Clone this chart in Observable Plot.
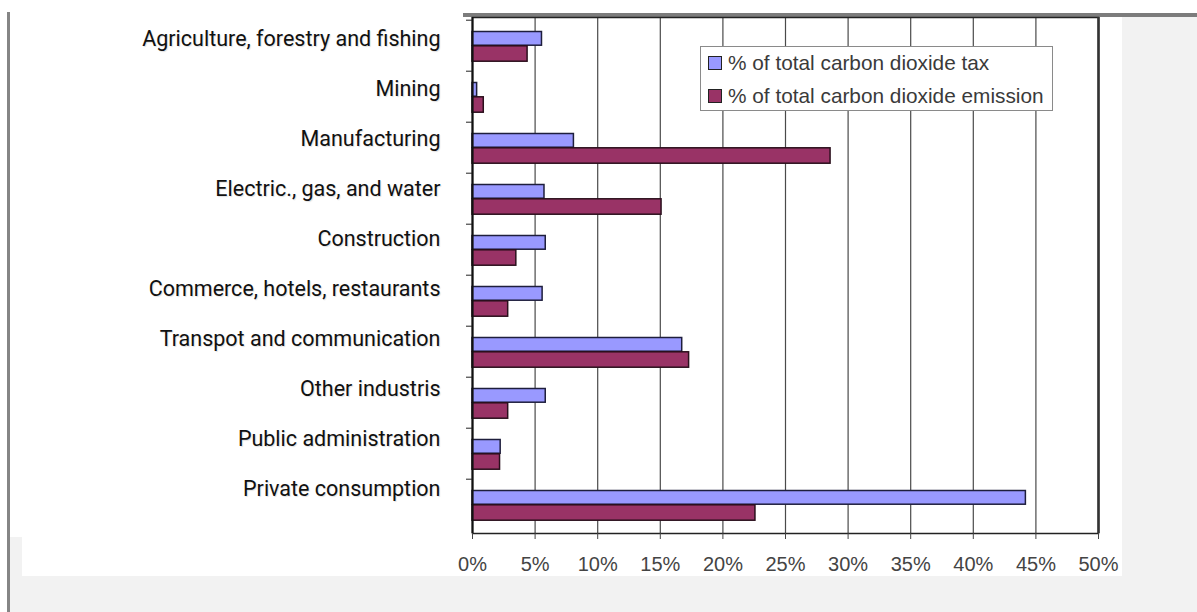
<!DOCTYPE html>
<html>
<head>
<meta charset="utf-8">
<script src="https://cdn.jsdelivr.net/npm/d3@7"></script>
<script src="https://cdn.jsdelivr.net/npm/@observablehq/plot@0.6"></script>
<style>
  html, body { margin: 0; padding: 0; background: #ffffff; }
  #wrap { position: relative; width: 1197px; height: 612px; overflow: hidden; background: #ffffff; }
  .abs { position: absolute; }
  #labels svg text { text-shadow: 1px 1px 1px rgba(0,0,0,0.12); }
  #legend { position: absolute; left: 700px; top: 46px; width: 351px; height: 63px; background: #ffffff; border: 1.5px solid #8a8a8a;
            font-family: "Liberation Sans", Arial, sans-serif; font-size: 20.8px; color: #3a3a3a; }
  .lrow { position: absolute; left: 7px; display: flex; align-items: center; white-space: nowrap; }
  .sw { width: 12px; height: 12px; border: 1.5px solid #222; margin-right: 6px; }
</style>
</head>
<body>
<div id="wrap">
  <div class="abs" style="left:10px;top:17px;width:1187px;height:595px;background:#f2f2f2"></div>
  <div class="abs" style="left:22px;top:13px;width:1100px;height:563px;background:#ffffff"></div>
  <div class="abs" style="left:10px;top:0px;width:460px;height:537px;background:#ffffff"></div>
  <div class="abs" style="left:463px;top:13px;width:734px;height:4px;background:#7c7c7c"></div>
  <div class="abs" style="left:7px;top:12px;width:3px;height:600px;background:#858585"></div>
  <div class="abs" id="chart" style="left:0;top:0"></div>
  <div class="abs" id="labels" style="left:0;top:0"></div>
  <div id="legend"></div>
</div>
<script>
const categories = [
  "Agriculture, forestry and fishing",
  "Mining",
  "Manufacturing",
  "Electric., gas, and water",
  "Construction",
  "Commerce, hotels, restaurants",
  "Transpot and communication",
  "Other industris",
  "Public administration",
  "Private consumption"
];
const taxShare      = [5.55, 0.37, 8.1, 5.75, 5.85, 5.6, 16.75, 5.85, 2.25, 44.2];
const emissionShare = [4.4, 0.9, 28.6, 15.1, 3.5, 2.85, 17.3, 2.85, 2.2, 22.6];
const xTicks = [0, 5, 10, 15, 20, 25, 30, 35, 40, 45, 50];
const seriesNames = ["% of total carbon dioxide tax", "% of total carbon dioxide emission"];
const seriesColors = ["#9999ff", "#993366"];

const taxRows = categories.map((c, i) => ({category: c, value: taxShare[i]}));
const emissionRows = categories.map((c, i) => ({category: c, value: emissionShare[i]}));

const chart = Plot.plot({
  width: 1197,
  height: 612,
  marginLeft: 472,
  marginRight: 99,
  marginTop: 17,
  marginBottom: 79,
  style: {background: "transparent", fontFamily: "'Liberation Sans', Arial, sans-serif", overflow: "visible"},
  x: {domain: [0, 50], label: null},
  y: {domain: categories, padding: 0, label: null},
  marks: [
    Plot.gridX(xTicks, {stroke: "#4a4a4a", strokeOpacity: 1, strokeWidth: 1.2}),
    Plot.barX(taxRows, {x: "value", y: "category", fill: seriesColors[0], stroke: "#1e1e3c", strokeWidth: 1.5, insetTop: 11.5, insetBottom: 25.8}),
    Plot.barX(emissionRows, {x: "value", y: "category", fill: seriesColors[1], stroke: "#2a0f1c", strokeWidth: 1.5, insetTop: 25.8, insetBottom: 9.8}),
    Plot.frame({stroke: "#222", strokeWidth: 1.5}),
    Plot.ruleX([0], {stroke: "#111", strokeWidth: 2}),
    Plot.ruleX([50], {stroke: "#333", strokeWidth: 2.5}),
    Plot.axisX(xTicks, {tickFormat: d => d + "%", tickSize: 6, tickPadding: 17, fontSize: 20, color: "#444", label: null}),
    Plot.axisY({tickSize: 6, tickFormat: () => "", dy: -25.8, label: null, color: "#222"})
  ]
});
document.getElementById("chart").appendChild(chart);

const labels = Plot.plot({
  width: 460,
  height: 537,
  marginLeft: 440,
  marginRight: 20,
  marginTop: 37,
  marginBottom: 46,
  style: {background: "transparent", fontFamily: "Roboto, sans-serif", overflow: "visible"},
  y: {type: "point", domain: categories, padding: 0, label: null},
  marks: [
    Plot.axisY({tickSize: 0, tickPadding: 0, fontSize: 21.5, color: "#111", label: null})
  ]
});
document.getElementById("labels").appendChild(labels);

const legend = document.getElementById("legend");
seriesNames.forEach((name, i) => {
  const row = document.createElement("div");
  row.className = "lrow";
  row.style.top = (i === 0 ? 4 : 37) + "px";
  const sw = document.createElement("div");
  sw.className = "sw";
  sw.style.background = seriesColors[i];
  const t = document.createElement("span");
  t.textContent = name;
  row.appendChild(sw);
  row.appendChild(t);
  legend.appendChild(row);
});
</script>
</body>
</html>
